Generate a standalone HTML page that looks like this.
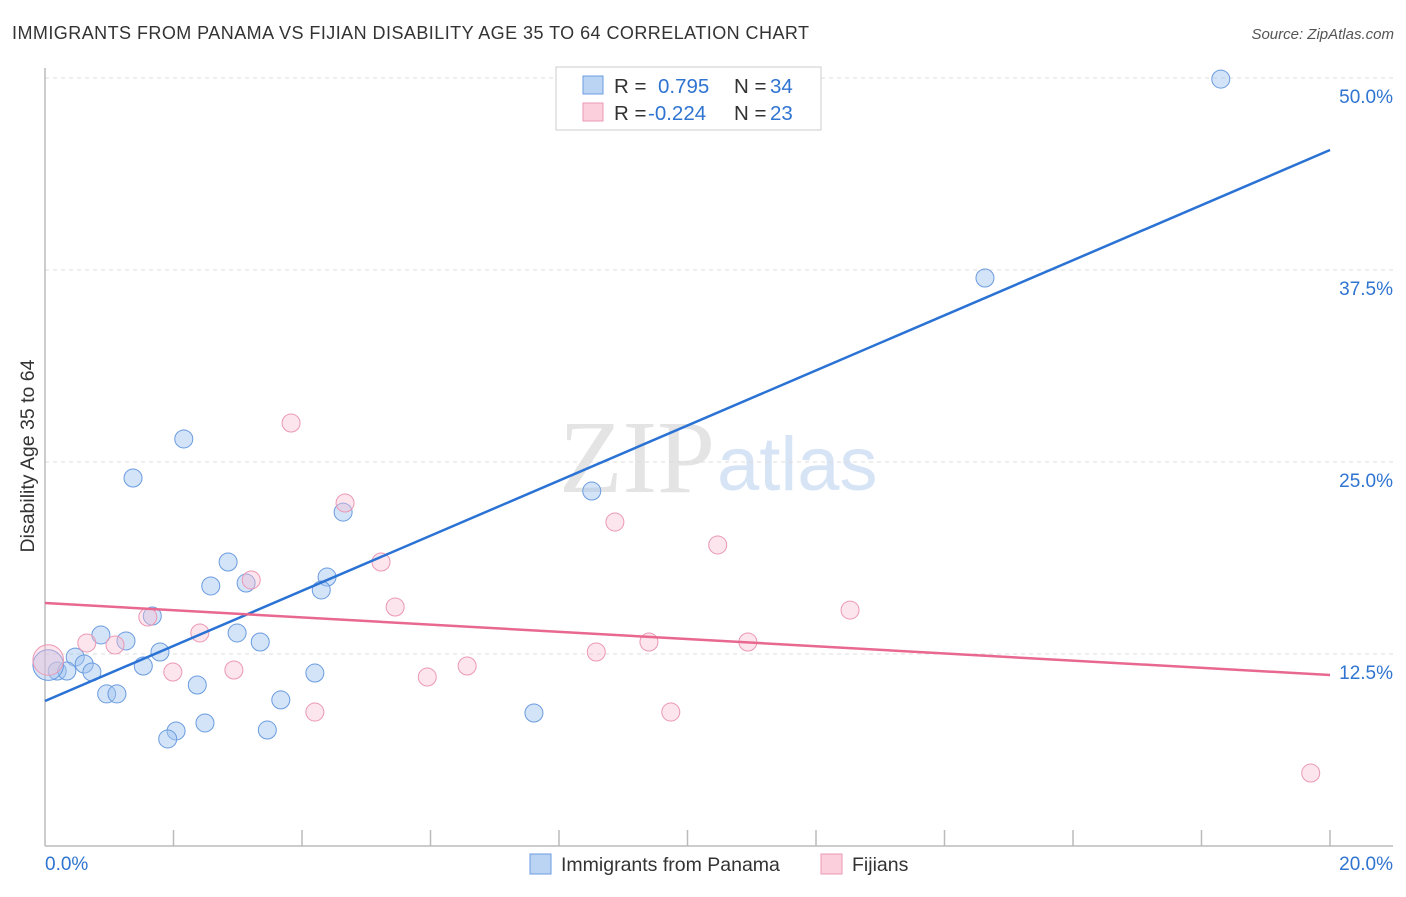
<!DOCTYPE html>
<html><head><meta charset="utf-8"><style>
body{margin:0;background:#fff;font-family:"Liberation Sans",sans-serif;}
</style></head><body>
<svg width="1406" height="892" xmlns="http://www.w3.org/2000/svg" style="font-family:'Liberation Sans',sans-serif">
<text x="12" y="39" font-size="18" fill="#333" letter-spacing="0.45">IMMIGRANTS FROM PANAMA VS FIJIAN DISABILITY AGE 35 TO 64 CORRELATION CHART</text>
<text x="1394" y="39" font-size="15" fill="#555" text-anchor="end" font-style="italic">Source: ZipAtlas.com</text>
<text x="715" y="492" font-size="104" fill="#e4e4e4" text-anchor="end" font-family="Liberation Serif">ZIP</text>
<text x="717" y="490" font-size="76" fill="#d6e4f5">atlas</text>
<g id="grid"></g>
<line x1="45" y1="68" x2="45" y2="846" stroke="#bbb" stroke-width="1.5"/>
<line x1="45" y1="846" x2="1393" y2="846" stroke="#bbb" stroke-width="1.5"/>
<g id="ticks"></g>
<text transform="translate(34,456) rotate(-90)" font-size="19.5" fill="#333" text-anchor="middle">Disability Age 35 to 64</text>
<g id="pts"></g>
<g id="trends"></g>
<g>
<rect x="556" y="67" width="265" height="63" fill="#fff" stroke="#ccc"/>
<rect x="583" y="76" width="20" height="18" fill="#bcd4f4" stroke="#6a9be0"/>
<rect x="583" y="103" width="20" height="18" fill="#fbcfdc" stroke="#eb98b4"/>
<text x="614" y="93" font-size="20.5" fill="#333">R = </text><text x="658" y="93" font-size="20.5" fill="#2f74d0">0.795</text>
<text x="734" y="93" font-size="20.5" fill="#333">N = </text><text x="770" y="93" font-size="20.5" fill="#2f74d0">34</text>
<text x="614" y="120" font-size="20.5" fill="#333">R = </text><text x="648" y="120" font-size="20.5" fill="#2f74d0">-0.224</text>
<text x="734" y="120" font-size="20.5" fill="#333">N = </text><text x="770" y="120" font-size="20.5" fill="#2f74d0">23</text>
</g>
<g>
<rect x="530" y="854" width="21" height="20" fill="#bcd4f4" stroke="#6a9be0"/>
<text x="561" y="871" font-size="19.5" fill="#333">Immigrants from Panama</text>
<rect x="821" y="854" width="21" height="20" fill="#fbcfdc" stroke="#eb98b4"/>
<text x="852" y="871" font-size="19.5" fill="#333">Fijians</text>
</g>
</svg>
<script>
const xTicks=[0,2,4,6,8,10,12,14,16,18,20];
const yTicks=[12.5,25,37.5,50];
const blueX=[18.30,14.63,2.16,1.37,8.51,4.64,2.85,4.39,2.58,3.13,4.30,1.67,0.87,2.99,1.26,3.35,1.79,0.47,0.61,1.53,0.19,0.34,0.73,4.20,2.37,0.96,1.12,3.67,7.61,2.49,2.04,3.46,1.91,0.05];
const blueY=[49.93,36.98,26.50,23.96,23.11,21.74,18.49,17.51,16.93,17.12,16.67,14.97,13.74,13.87,13.35,13.28,12.63,12.30,11.85,11.72,11.39,11.39,11.33,11.26,10.48,9.90,9.90,9.51,8.66,8.01,7.49,7.55,6.97,11.78];
const blueSize=[1,1,1,1,1,1,1,1,1,1,1,1,1,1,1,1,1,1,1,1,1,1,1,1,1,1,1,1,1,1,1,1,1,1.7];
const pinkX=[3.83,4.67,8.87,10.47,5.23,3.21,5.45,12.53,1.60,2.41,0.65,1.09,9.40,10.94,8.58,6.57,1.99,2.94,5.95,4.20,9.74,19.70,0.05];
const pinkY=[27.54,22.33,21.09,19.60,18.49,17.32,15.56,15.36,14.91,13.87,13.22,13.09,13.28,13.28,12.63,11.72,11.33,11.46,11.00,8.72,8.72,4.75,12.11];
const pinkSize=[1,1,1,1,1,1,1,1,1,1,1,1,1,1,1,1,1,1,1,1,1,1,1.7];
const blueTrend=[9.44,45.31];
const pinkTrend=[15.82,11.13];
const NS='http://www.w3.org/2000/svg';
const X=v=>45+v/20*1285, Y=v=>846-v/50*768;
function mk(tag,attrs,parent){const e=document.createElementNS(NS,tag);for(const k in attrs)e.setAttribute(k,attrs[k]);parent.appendChild(e);return e;}
const grid=document.getElementById('grid'),ticks=document.getElementById('ticks'),pts=document.getElementById('pts'),tr=document.getElementById('trends');
yTicks.forEach(t=>{
 const l=mk('line',{x1:45,x2:1393,y1:Y(t),y2:Y(t),stroke:'#ddd','stroke-dasharray':'4,4'},grid);
 
 
 const tx=mk('text',{x:1393,y:Y(t)+25,'font-size':19,fill:'#2f74d0','text-anchor':'end'},grid);
 tx.textContent=t.toFixed(1)+'%';
 
 
});
xTicks.forEach(t=>{
 if(t>0){const l=mk('line',{x1:X(t),x2:X(t),y1:830,y2:846,stroke:'#bbb','stroke-width':1.5},ticks);
 
 }
 if(t===0||t===20){const tx=mk('text',{x:t===0?45:1393,y:870,'font-size':19,fill:'#2f74d0','text-anchor':t===0?'start':'end'},ticks);
 tx.textContent=t.toFixed(1)+'%';
 
 }
});
blueX.forEach((v,i)=>{
 const c=mk('circle',{cx:X(v),cy:Y(blueY[i]),r:9*blueSize[i],fill:'rgba(160,195,240,0.45)',stroke:'#6a9be0','stroke-width':1},pts);
 
 
});
pinkX.forEach((v,i)=>{
 const c=mk('circle',{cx:X(v),cy:Y(pinkY[i]),r:9*pinkSize[i],fill:'rgba(250,190,210,0.4)',stroke:'#eb98b4','stroke-width':1},pts);
 
 
});
const bl=mk('line',{x1:X(0),y1:Y(blueTrend[0]),x2:X(20),y2:Y(blueTrend[1]),stroke:'#2a72d4','stroke-width':2.5},tr);


const pl=mk('line',{x1:X(0),y1:Y(pinkTrend[0]),x2:X(20),y2:Y(pinkTrend[1]),stroke:'#e8688f','stroke-width':2.5},tr);


</script>
</body></html>
